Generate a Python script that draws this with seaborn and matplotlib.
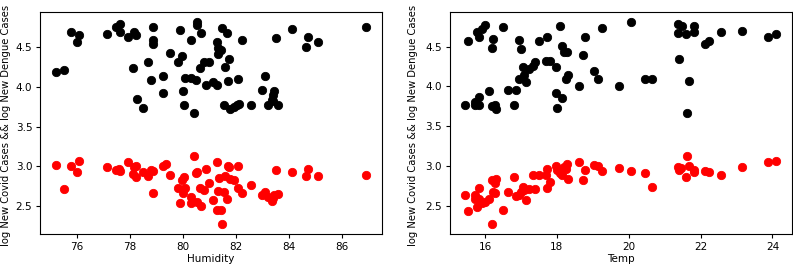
import matplotlib
matplotlib.use("Agg")
import matplotlib.pyplot as plt
import seaborn as sns
import pandas as pd

# ---- Left panel: Humidity ----
hum_dengue = [75.21, 75.53, 75.78, 76.03, 76.10, 77.15, 77.50, 77.65, 77.63, 77.94,
              78.16, 78.25, 78.13, 78.28, 78.50, 78.70, 78.81, 78.88, 78.88, 78.88,
              79.25, 79.50, 79.26, 79.81, 79.95, 79.91, 80.00, 80.04, 80.10, 80.29,
              80.49, 80.29, 80.41, 80.53, 80.53, 80.69, 80.64, 80.78, 80.88, 81.00,
              81.13, 81.28, 81.28, 81.31, 81.34, 81.44, 81.46, 81.60, 81.66, 81.69,
              81.75, 81.55, 81.78, 81.94, 82.03, 82.10, 82.08, 82.23, 82.58, 82.99,
              83.08, 83.20, 83.35, 83.40, 83.44, 83.40, 83.58, 83.49, 84.11, 84.63,
              84.71, 85.10, 86.91]
dengue_h = [4.19, 4.22, 4.70, 4.57, 4.66, 4.67, 4.76, 4.79, 4.70, 4.63,
            4.69, 4.66, 4.24, 3.85, 3.73, 4.31, 4.09, 4.76, 4.59, 4.54,
            4.14, 4.43, 3.93, 4.32, 4.39, 4.72, 3.95, 3.77, 4.11, 4.11,
            4.09, 4.60, 3.67, 4.82, 4.78, 4.68, 4.24, 4.31, 4.02, 4.31,
            4.06, 4.02, 4.57, 4.49, 4.42, 4.47, 4.75, 4.25, 4.68, 4.07,
            4.35, 3.77, 3.72, 3.75, 3.77, 3.79, 4.10, 4.60, 3.77, 3.96,
            4.14, 3.77, 3.83, 3.90, 3.95, 3.82, 3.77, 4.62, 4.73, 4.50,
            4.63, 4.57, 4.76]

hum_covid = [75.21, 75.53, 75.78, 76.03, 76.10, 77.15, 77.50, 77.65, 77.60, 77.94,
             78.16, 78.25, 78.13, 78.25, 78.50, 78.70, 78.81, 78.88, 78.88, 79.25,
             79.38, 79.50, 79.81, 79.95, 80.04, 79.91, 80.00, 80.10, 80.29, 80.29,
             80.41, 80.49, 80.53, 80.53, 80.64, 80.69, 80.78, 80.88, 81.00, 81.13,
             81.28, 81.28, 81.34, 81.35, 81.44, 81.46, 81.55, 81.60, 81.66, 81.69,
             81.75, 81.78, 81.94, 82.08, 82.08, 82.23, 82.58, 82.99, 83.08, 83.20,
             83.35, 83.40, 83.44, 83.58, 83.49, 84.11, 84.63, 84.71, 85.10, 86.91]
covid_h = [3.01, 2.71, 3.00, 2.92, 3.06, 2.99, 2.95, 2.94, 2.96, 3.05,
           2.99, 3.00, 2.90, 2.86, 2.92, 2.88, 2.95, 2.94, 2.66, 3.00,
           3.03, 2.89, 2.72, 2.82, 2.86, 2.54, 2.66, 2.73, 2.61, 2.54,
           3.13, 2.91, 2.93, 2.55, 2.72, 2.49, 2.70, 2.97, 2.79, 2.57,
           3.05, 2.44, 2.69, 2.85, 2.45, 2.27, 2.67, 2.88, 2.59, 3.00,
           2.99, 2.84, 2.82, 3.00, 2.72, 2.66, 2.76, 2.63, 2.67, 2.61,
           2.56, 2.60, 2.63, 2.65, 2.95, 2.92, 2.87, 2.96, 2.87, 2.89]

# ---- Right panel: Temp ----
temp_dengue = [15.45, 15.52, 15.71, 15.71, 15.77, 15.83, 15.83, 15.83, 15.92, 16.00,
               16.10, 16.20, 16.21, 16.20, 16.29, 16.31, 16.50, 16.65, 16.82, 16.87,
               16.94, 16.95, 17.00, 17.07, 17.15, 17.09, 17.23, 17.33, 17.40, 17.49,
               17.69, 17.73, 17.80, 17.98, 17.98, 18.00, 18.09, 18.15, 18.15, 18.19,
               18.28, 18.24, 18.30, 18.61, 18.72, 18.78, 19.02, 19.15, 19.26, 19.74,
               20.06, 20.44, 20.65, 21.38, 21.48, 21.38, 21.41, 21.58, 21.69, 21.63,
               21.81, 21.81, 22.12, 22.23, 22.56, 23.14, 23.88, 24.11]
dengue_t = [3.77, 4.57, 3.81, 3.77, 4.68, 4.62, 3.87, 3.77, 4.72, 4.77,
            3.94, 3.75, 4.60, 4.48, 3.77, 3.72, 4.75, 3.95, 3.77, 3.96,
            4.10, 4.59, 4.47, 4.25, 4.05, 4.14, 4.22, 4.26, 4.31, 4.57,
            4.32, 4.62, 4.32, 4.24, 3.92, 3.73, 4.76, 3.85, 4.51, 4.43,
            4.43, 4.10, 4.14, 4.01, 4.39, 4.62, 4.19, 4.10, 4.73, 4.01,
            4.81, 4.09, 4.10, 4.79, 4.76, 4.67, 4.35, 4.66, 4.07, 3.67,
            4.76, 4.69, 4.54, 4.57, 4.68, 4.70, 4.62, 4.66]

temp_covid = [15.45, 15.52, 15.71, 15.71, 15.77, 15.83, 15.83, 15.92, 16.00, 16.10,
              16.20, 16.20, 16.21, 16.29, 16.31, 16.29, 16.50, 16.65, 16.82, 16.87,
              16.94, 17.00, 17.07, 17.15, 17.09, 17.23, 17.33, 17.40, 17.49, 17.69,
              17.73, 17.72, 17.80, 17.98, 18.00, 18.09, 18.15, 18.19, 18.28, 18.30,
              18.24, 18.61, 18.72, 18.78, 19.02, 19.15, 19.26, 19.74, 20.06, 20.44,
              20.65, 21.38, 21.41, 21.45, 21.63, 21.58, 21.69, 21.81, 21.81, 22.12,
              22.23, 22.56, 23.14, 23.88, 24.11]
covid_t = [2.64, 2.43, 2.64, 2.58, 2.48, 2.72, 2.58, 2.53, 2.55, 2.58,
           2.82, 2.27, 2.67, 2.78, 2.84, 2.66, 2.45, 2.67, 2.86, 2.62,
           2.64, 2.67, 2.73, 2.57, 2.70, 2.71, 2.89, 2.71, 2.89, 2.88,
           2.96, 2.72, 2.80, 3.00, 2.95, 2.91, 2.89, 2.99, 3.02, 2.84,
           2.96, 3.05, 2.82, 2.95, 3.01, 3.00, 2.93, 2.97, 2.94, 2.91,
           2.73, 2.99, 2.95, 2.97, 3.13, 2.86, 3.00, 2.95, 2.92, 2.94,
           2.92, 2.89, 2.99, 3.05, 3.06]

ylabel = "log New Covid Cases && log New Dengue Cases"
FS = 7.5
YFS = 7.2

fig = plt.figure(figsize=(7.93, 2.67), dpi=100)
ax1 = fig.add_axes([40/793, 1 - 234/267, 342/793, 222/267])
ax2 = fig.add_axes([449.7/793, 1 - 234/267, 342.3/793, 222/267])

panels = [
    (ax1, hum_dengue, dengue_h, hum_covid, covid_h, "Humidity", -0.086),
    (ax2, temp_dengue, dengue_t, temp_covid, covid_t, "Temp", -0.092),
]
for ax, xd, yd, xc, yc, xlabel, lx in panels:
    dfd = pd.DataFrame({"x": xd, "y": yd})
    dfc = pd.DataFrame({"x": xc, "y": yc})
    sns.scatterplot(data=dfd, x="x", y="y", ax=ax, color="black", s=36,
                    edgecolor="black", linewidth=0.6)
    sns.scatterplot(data=dfc, x="x", y="y", ax=ax, color="red", s=36,
                    edgecolor="red", linewidth=0.6)
    ax.set_xlabel(xlabel, fontsize=FS, labelpad=2)
    ax.set_ylabel(ylabel, fontsize=YFS)
    ax.yaxis.set_label_coords(lx, 0.49)
    ax.tick_params(labelsize=FS, length=3, width=0.8, pad=2.5)
    ax.set_yticks([2.5, 3.0, 3.5, 4.0, 4.5])

ax1.set_xticks([76, 78, 80, 82, 84, 86])
ax2.set_xticks([16, 18, 20, 22, 24])

fig.savefig("out.png", dpi=100)
